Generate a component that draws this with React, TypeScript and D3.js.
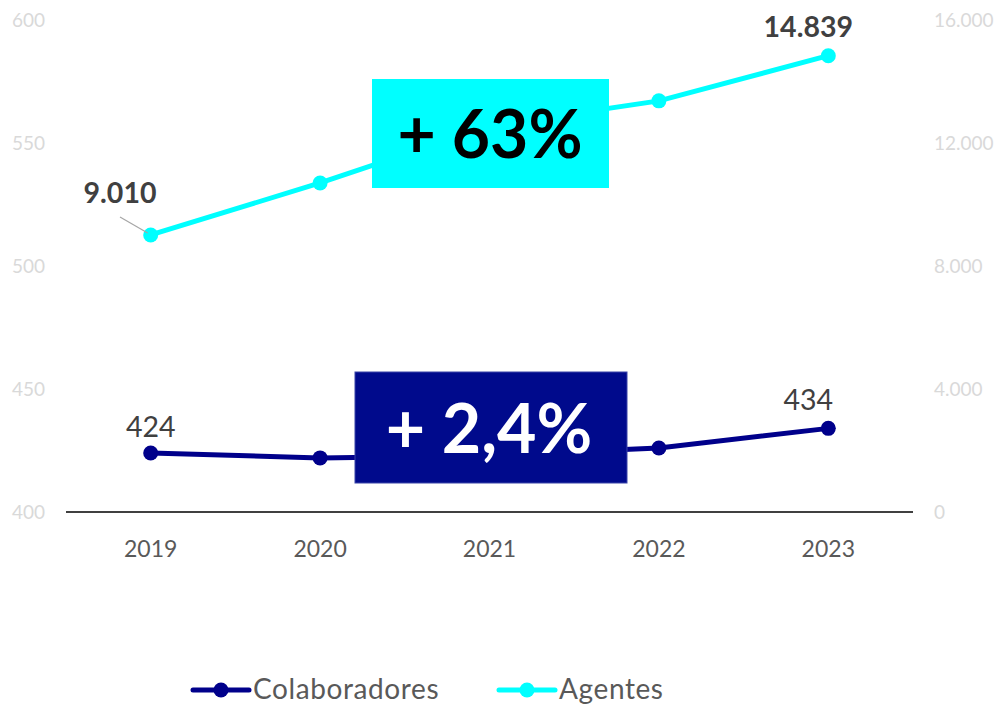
import React from "react";
import * as d3 from "d3";

const years = ["2019", "2020", "2021", "2022", "2023"];
const colaboradores = [424, 422, 423, 426, 434];
const agentes = [9010, 10700, 12550, 13370, 14839];
const leftTicks = [400, 450, 500, 550, 600];
const rightTicks = [0, 4000, 8000, 12000, 16000];
const seriesNames = ["Colaboradores", "Agentes"];
const seriesColors = ["#00008B", "#00FFFF"];
const badgeTexts = ["+ 63%", "+ 2,4%"];

const FONT = "Lato, 'Open Sans', sans-serif";
const fmt = (v: number) => d3.format(",")(v).replace(/,/g, ".");

export default function App() {
  const W = 997, H = 704;
  const x = d3.scaleBand<string>().domain(years).range([66, 913]);
  const cx = (y: string) => (x(y) as number) + x.bandwidth() / 2;
  const yL = d3.scaleLinear().domain([400, 600]).range([512, 20]);
  const yR = d3.scaleLinear().domain([0, 16000]).range([512, 20]);

  const lineC = d3.line<number>().x((_, i) => cx(years[i])).y((d) => yL(d));
  const lineA = d3.line<number>().x((_, i) => cx(years[i])).y((d) => yR(d));

  const last = years.length - 1;

  return (
    <svg width={W} height={H} style={{ position: "absolute", left: 0, top: 0, background: "#fff" }} fontFamily={FONT}>
      {leftTicks.map((t) => (
        <text key={"l" + t} x={45} y={yL(t) + 7} textAnchor="end" fontSize={19} fill="#d9d9d9">{t}</text>
      ))}
      {rightTicks.map((t) => (
        <text key={"r" + t} x={934} y={yR(t) + 7} textAnchor="start" fontSize={19} fill="#d9d9d9">{fmt(t)}</text>
      ))}
      <line x1={66} x2={913} y1={yL(400)} y2={yL(400)} stroke="#000" strokeWidth={1.5} />
      {years.map((yr) => (
        <text key={yr} x={cx(yr)} y={557} textAnchor="middle" fontSize={23} fill="#595959">{yr}</text>
      ))}

      <path d={lineA(agentes) as string} fill="none" stroke={seriesColors[1]} strokeWidth={5} />
      {agentes.map((v, i) => (
        <circle key={"a" + i} cx={cx(years[i])} cy={yR(v)} r={7.5} fill={seriesColors[1]} />
      ))}
      <path d={lineC(colaboradores) as string} fill="none" stroke={seriesColors[0]} strokeWidth={5} />
      {colaboradores.map((v, i) => (
        <circle key={"c" + i} cx={cx(years[i])} cy={yL(v)} r={7.5} fill={seriesColors[0]} />
      ))}

      {/* data labels */}
      <line x1={120} y1={217} x2={cx(years[0]) - 3} y2={yR(agentes[0]) - 2} stroke="#a6a6a6" strokeWidth={1.2} />
      <text x={120} y={203} textAnchor="middle" fontSize={28.5} fontWeight="bold" fill="#404040">{fmt(agentes[0])}</text>
      <text x={cx(years[last]) - 20} y={37} textAnchor="middle" fontSize={28.5} fontWeight="bold" fill="#404040">{fmt(agentes[last])}</text>
      <text x={cx(years[0])} y={437} textAnchor="middle" fontSize={28.5} fill="#404040">{colaboradores[0]}</text>
      <text x={cx(years[last]) - 20} y={410} textAnchor="middle" fontSize={28.5} fill="#404040">{colaboradores[last]}</text>

      {/* badges */}
      <rect x={372} y={79} width={237} height={109} fill="#00FFFF" />
      <text x={490} y={158} textAnchor="middle" fontSize={66} fontWeight="bold" fill="#000">{badgeTexts[0]}</text>
      <rect x={355} y={372} width={272} height={111} fill="#000A8C" stroke="#3a44a8" strokeWidth={1} />
      <text x={489} y={453} textAnchor="middle" fontSize={68} fontWeight="bold" fill="#fff">{badgeTexts[1]}</text>

      {/* legend */}
      {[{ x0: 193, tx: 253 }, { x0: 499, tx: 559 }].map((p, i) => (
        <g key={"lg" + i}>
          <line x1={p.x0} x2={p.x0 + 56} y1={690} y2={690} stroke={seriesColors[i]} strokeWidth={5} strokeLinecap="round" />
          <circle cx={p.x0 + 28} cy={690} r={7.5} fill={seriesColors[i]} />
          <text x={p.tx} y={699} fontSize={28} letterSpacing={0.6} fill="#595959">{seriesNames[i]}</text>
        </g>
      ))}
    </svg>
  );
}
